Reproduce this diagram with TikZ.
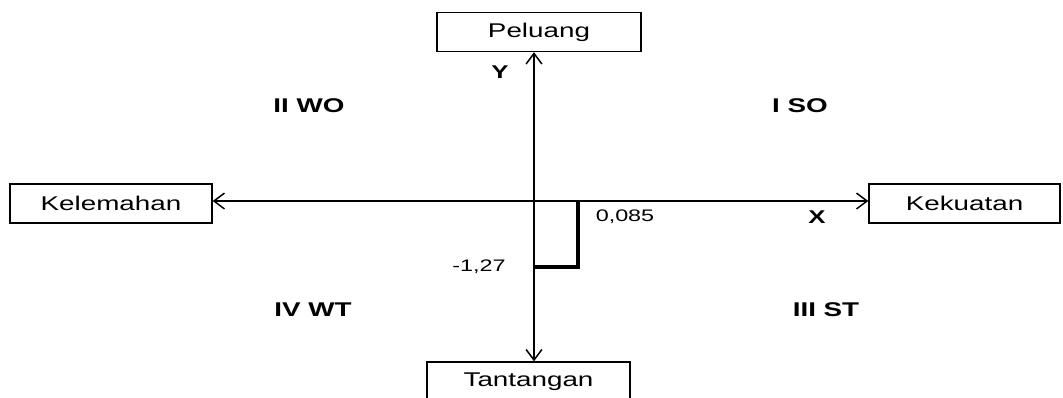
\documentclass[tikz,border=0pt]{standalone}
\usepackage{fontspec}
\setmainfont{Liberation Sans}[FakeStretch=1.4]
\usetikzlibrary{arrows.meta}

\tikzset{
    kotak/.style={draw, line width=0.8pt, inner sep=0pt, minimum height=0.78cm,
        font=\fontsize{11.3}{13}\selectfont},
    kuadran/.style={font=\fontsize{11.3}{13}\selectfont\bfseries},
    huruf/.style={font=\fontsize{10.5}{12}\selectfont\bfseries},
    nilai/.style={font=\fontsize{9.5}{11}\selectfont},
    sumbu/.style={line width=0.85pt, {Straight Barb[length=6pt,width=9pt]}-{Straight Barb[length=6pt,width=9pt]}}
}

\begin{document}
\begin{tikzpicture}[x=0.02cm, y=-0.02cm]
    % Frame of the picture
    \useasboundingbox (0,0) rectangle (1063,397);
    \clip (0,0) rectangle (1063,397);

    % Origin of the axes and the point of the result
    \coordinate (O) at (534,201);
    \coordinate (P) at (578,267);

    % The four boxes
    \node[kotak, minimum width=4.08cm] (Peluang) at (539,32) {Peluang};
    \node[kotak, minimum width=4.04cm] (Kelemahan) at (111,203.5) {Kelemahan};
    \node[kotak, minimum width=3.82cm] (Kekuatan) at (964.5,203.5) {Kekuatan};
    \node[kotak, minimum width=4.06cm] (Tantangan) at (528.5,381.5) {Tantangan};

    % Draw the axes
    \draw[sumbu] (Peluang.south -| O) -- (Tantangan.north -| O);
    \draw[sumbu] (Kelemahan.east |- O) -- (Kekuatan.west |- O);

    % Result of the analysis
    \draw[line width=2pt] (O -| P) -- (P) -- (P -| O);

    % Axis names and values
    \node[huruf] (Y) at (500,72) {Y};
    \node[huruf] (X) at (817,217) {X};
    \node[nilai] (nx) at (625,217) {0,085};
    \node[nilai] (ny) at (479,267) {-1,27};

    % Quadrants
    \node[kuadran] (q1) at (800,106) {I SO};
    \node[kuadran] (q2) at (309,106) {II WO};
    \node[kuadran] (q3) at (826,310) {III ST};
    \node[kuadran] (q4) at (313,310) {IV WT};
\end{tikzpicture}
\end{document}
